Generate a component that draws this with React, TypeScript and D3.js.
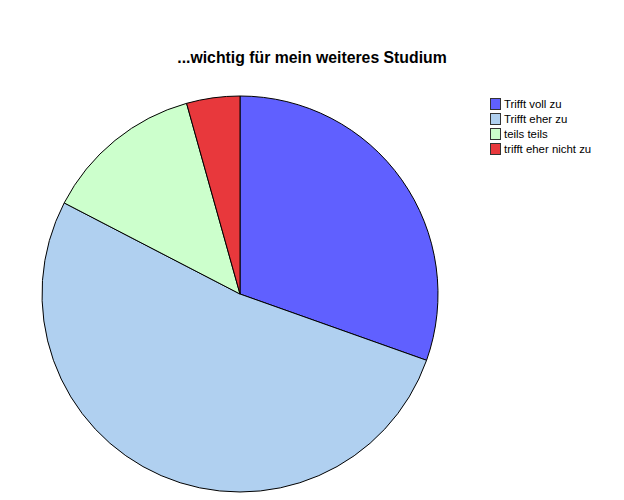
import * as d3 from 'd3';

const categories = ['Trifft voll zu', 'Trifft eher zu', 'teils teils', 'trifft eher nicht zu'];
const counts = [7, 12, 3, 1];
const colors = ['#6060FF', '#B0D0F0', '#CCFFCC', '#E8383C'];
const title = '...wichtig für mein weiteres Studium';

export default function App() {
  const width = 624;
  const height = 500;
  const cx = 240;
  const cy = 294;
  const radius = 198;

  const pie = d3.pie<number>().sort(null).value((d) => d);
  const arcs = pie(counts);
  const arc = d3.arc<d3.PieArcDatum<number>>().innerRadius(0).outerRadius(radius);

  const legendY = d3.scaleBand<string>().domain(categories).range([97, 157]);

  return (
    <svg
      width={width}
      height={height}
      style={{ position: 'absolute', left: 0, top: 0, background: '#fff' }}
      fontFamily="'Liberation Sans', Arial, sans-serif"
    >
      <text x={312} y={63} textAnchor="middle" fontSize={15.8} fontWeight="bold">
        {title}
      </text>
      <g transform={`translate(${cx},${cy})`}>
        {arcs.map((a, i) => (
          <path key={i} d={arc(a) as string} fill={colors[i]} stroke="#000" strokeWidth={1} />
        ))}
      </g>
      <g>
        {categories.map((c, i) => (
          <g key={c} transform={`translate(490,${legendY(c)})`}>
            <rect x={0.5} y={1.5} width={10} height={11} fill={colors[i]} stroke="#333" strokeWidth={1} />
            <text x={14} y={11} fontSize={11.4}>
              {c}
            </text>
          </g>
        ))}
      </g>
    </svg>
  );
}
